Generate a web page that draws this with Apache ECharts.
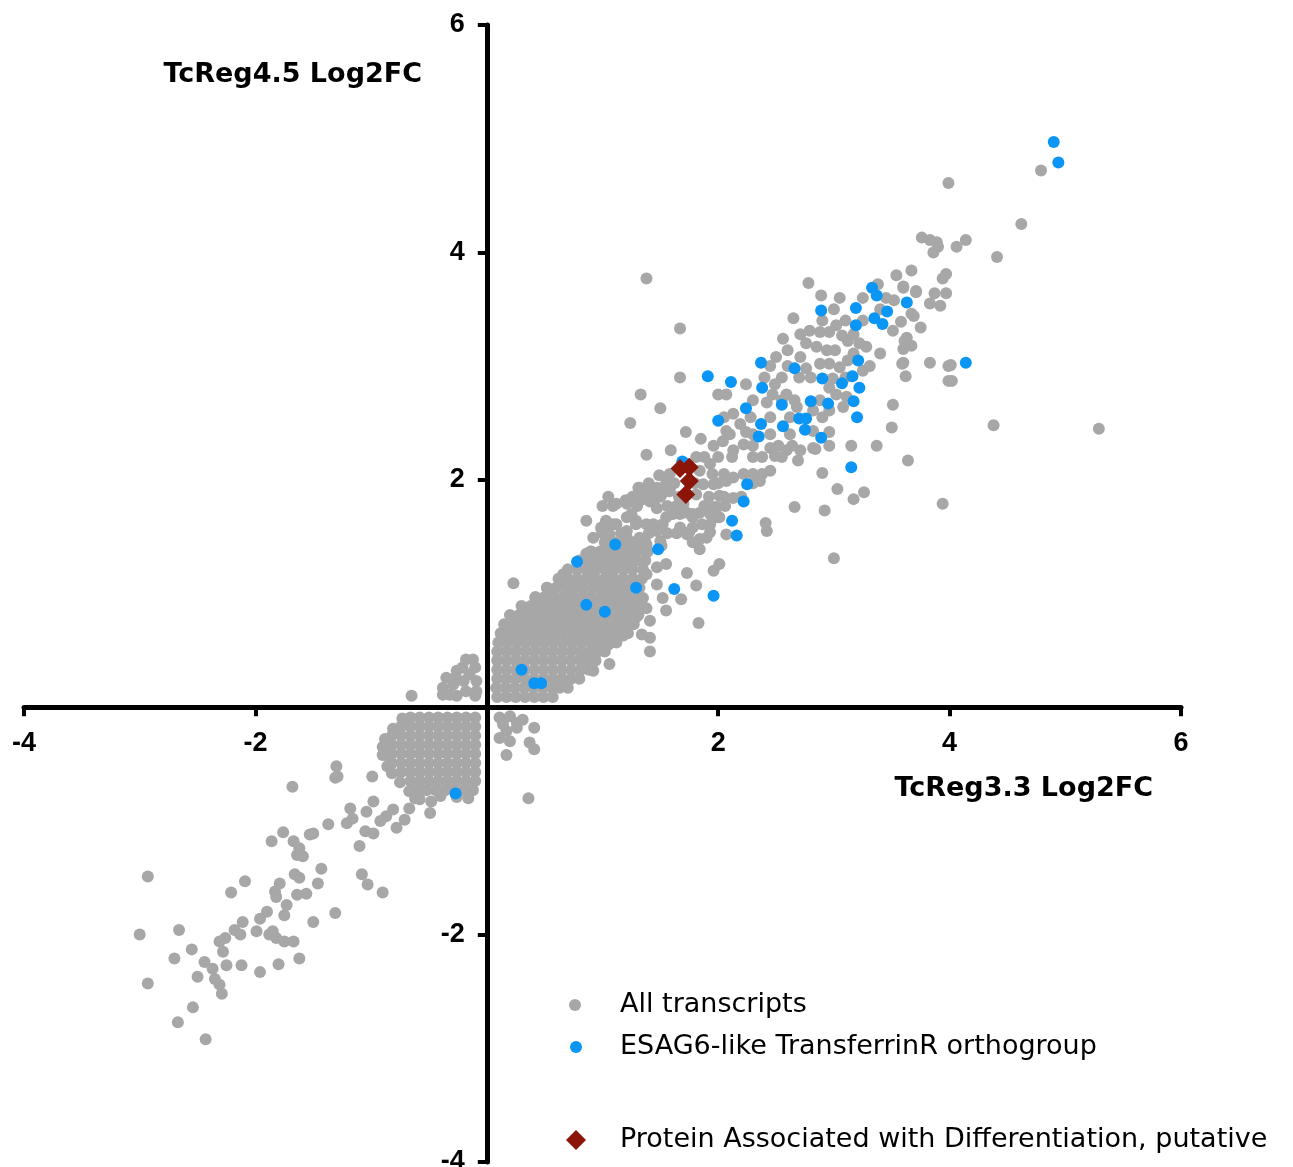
<!DOCTYPE html>
<html lang="en">
<head>
    <meta charset="UTF-8">
    <title>TcReg3.3 vs TcReg4.5 Log2FC</title>
    <script src="https://cdn.jsdelivr.net/npm/echarts@6/dist/echarts.min.js"></script>
    <style>
        html, body { margin: 0; padding: 0; background: #fff; }
    </style>
</head>
<body>
    <div id="chart" style="width:1293px;height:1167px;"></div>
    <script>
        // tick values shown on both axes (0 is hidden where the axes cross)
        var xTicks = [-4, -2, 2, 4, 6]
        var yTicks = [-4, -2, 2, 4, 6]

        // All transcripts: [TcReg3.3 log2FC, TcReg4.5 log2FC]
        // long tail going down-left
        var grayTail = [
            [-1.30,-0.52],[-1.31,-0.62],[-1.29,-0.61],[-1.68,-0.70],[-0.99,-0.61],[-0.88,-0.33],[-0.87,-0.42],
            [-1.18,-0.89],[-1.37,-1.03],[-1.21,-1.02],[-1.16,-0.98],[-1.04,-0.92],[-0.98,-0.83],[-1.05,-1.09],
            [-0.98,-1.11],[-0.92,-1.00],[-0.87,-0.96],[-0.81,-0.90],[-0.78,-1.06],[-0.71,-0.99],[-0.67,-0.89],
            [-0.58,-0.81],[-0.48,-0.83],[-0.49,-0.93],[-1.10,-1.22],[-1.08,-1.47],[-1.03,-1.56],[-0.90,-1.63],
            [-1.53,-1.12],[-1.50,-1.11],[-1.76,-1.10],[-1.86,-1.18],[-1.67,-1.18],[-1.64,-1.30],[-1.59,-1.31],
            [-1.62,-1.24],[-1.43,-1.42],[-1.66,-1.47],[-1.62,-1.50],[-1.46,-1.55],[-1.79,-1.55],[-1.83,-1.62],
            [-1.82,-1.67],[-1.64,-1.65],[-1.56,-1.64],[-1.73,-1.74],[-1.75,-1.83],[-1.90,-1.80],[-1.96,-1.86],
            [-1.99,-1.97],[-1.88,-2.00],[-1.82,-2.03],[-1.75,-2.06],[-1.67,-2.06],[-1.85,-1.97],[-2.09,-1.53],
            [-2.21,-1.63],[-2.93,-1.49],[-3.00,-2.00],[-2.66,-1.96],[-2.11,-1.89],[-2.18,-1.96],[-2.13,-2.00],
            [-2.31,-2.06],[-2.26,-2.03],[-2.28,-2.15],[-2.55,-2.13],[-2.70,-2.21],[-2.44,-2.24],[-2.37,-2.30],
            [-2.35,-2.39],[-2.31,-2.44],[-2.29,-2.52],[-2.25,-2.27],[-2.12,-2.27],[-1.96,-2.33],[-1.80,-2.26],
            [-1.62,-2.21],[-1.50,-1.89],[-1.31,-1.81],[-2.50,-2.37],[-2.93,-2.43],[-2.54,-2.64],[-2.67,-2.77],
            [-2.43,-2.92]
        ]

        // dense block just below the x axis, left of the y axis
        var grayNegBlock = [
            [-0.10,-0.09],[-0.18,-0.09],[-0.26,-0.09],[-0.34,-0.09],[-0.42,-0.09],[-0.50,-0.09],[-0.58,-0.09],[-0.66,-0.09],[-0.73,-0.10],
            [-0.10,-0.17],[-0.18,-0.17],[-0.26,-0.17],[-0.34,-0.17],[-0.42,-0.17],[-0.50,-0.17],[-0.58,-0.17],[-0.66,-0.17],[-0.74,-0.17],[-0.81,-0.19],
            [-0.10,-0.25],[-0.18,-0.25],[-0.26,-0.25],[-0.34,-0.25],[-0.42,-0.25],[-0.50,-0.25],[-0.58,-0.25],[-0.66,-0.25],[-0.74,-0.25],[-0.82,-0.25],[-0.88,-0.28],
            [-0.10,-0.33],[-0.18,-0.33],[-0.26,-0.33],[-0.34,-0.33],[-0.42,-0.33],[-0.50,-0.33],[-0.58,-0.33],[-0.66,-0.33],[-0.74,-0.33],[-0.82,-0.33],[-0.90,-0.35],
            [-0.10,-0.41],[-0.18,-0.41],[-0.26,-0.41],[-0.34,-0.41],[-0.42,-0.41],[-0.50,-0.41],[-0.58,-0.41],[-0.66,-0.41],[-0.74,-0.41],[-0.82,-0.41],[-0.90,-0.42],
            [-0.10,-0.49],[-0.18,-0.49],[-0.26,-0.49],[-0.34,-0.49],[-0.42,-0.49],[-0.50,-0.49],[-0.58,-0.49],[-0.66,-0.49],[-0.74,-0.49],[-0.82,-0.49],[-0.86,-0.52],
            [-0.10,-0.57],[-0.18,-0.57],[-0.26,-0.57],[-0.34,-0.57],[-0.42,-0.57],[-0.50,-0.57],[-0.58,-0.57],[-0.66,-0.57],[-0.74,-0.57],[-0.82,-0.58],
            [-0.10,-0.65],[-0.18,-0.65],[-0.26,-0.65],[-0.34,-0.65],[-0.42,-0.65],[-0.50,-0.65],[-0.58,-0.65],[-0.66,-0.65],[-0.75,-0.66],
            [-0.12,-0.73],[-0.20,-0.73],[-0.28,-0.73],[-0.36,-0.73],[-0.44,-0.73],[-0.52,-0.73],[-0.60,-0.73],[-0.67,-0.74],
            [-0.16,-0.80],[-0.26,-0.79],[-0.40,-0.78],[-0.62,-0.80]
        ]

        // small groups in the other two quadrants near the origin
        var grayOffQuadrant = [
            [-0.18,0.42],[-0.38,0.17],[-0.35,0.26],[-0.26,0.32],[-0.10,0.35],[-0.09,0.23],[-0.18,0.14],[-0.26,0.10],
            [-0.10,0.10],[-0.32,0.11],[-0.20,0.23],[-0.15,0.29],[-0.29,0.20],[-0.21,0.35],[-0.09,0.14],[-0.38,0.11],
            [-0.12,0.42],[-0.27,0.26],[-0.65,0.10],
            [0.11,-0.09],[0.20,-0.08],[0.31,-0.11],[0.26,-0.18],[0.17,-0.21],[0.11,-0.27],[0.20,-0.30],[0.17,-0.42],
            [0.41,-0.18],[0.37,-0.31],[0.41,-0.37],[0.36,-0.80],[0.26,-0.14],[0.14,-0.15]
        ]

        // dense core just above/right of the origin
        var grayCore = [
            [0.09,0.09],[0.17,0.09],[0.25,0.09],[0.33,0.09],[0.41,0.09],[0.49,0.09],[0.57,0.09],
            [0.08,0.17],[0.16,0.17],[0.24,0.17],[0.32,0.17],[0.40,0.17],[0.48,0.17],[0.56,0.17],[0.63,0.17],[0.70,0.17],
            [0.09,0.25],[0.17,0.25],[0.25,0.25],[0.33,0.25],[0.41,0.25],[0.49,0.25],[0.57,0.25],[0.65,0.25],[0.73,0.25],[0.80,0.25],
            [0.09,0.33],[0.17,0.33],[0.25,0.33],[0.33,0.33],[0.41,0.33],[0.49,0.33],[0.57,0.33],[0.65,0.33],[0.73,0.33],[0.81,0.33],[0.88,0.33],
            [0.09,0.41],[0.17,0.41],[0.25,0.41],[0.33,0.41],[0.41,0.41],[0.49,0.41],[0.57,0.41],[0.65,0.41],[0.73,0.41],[0.81,0.41],[0.88,0.41],[0.94,0.41],
            [0.09,0.49],[0.17,0.49],[0.25,0.49],[0.33,0.49],[0.41,0.49],[0.49,0.49],[0.57,0.49],[0.65,0.49],[0.73,0.49],[0.81,0.49],[0.89,0.49],[0.96,0.49],[1.02,0.49],
            [0.10,0.57],[0.18,0.57],[0.26,0.57],[0.34,0.57],[0.42,0.57],[0.50,0.57],[0.58,0.57],[0.66,0.57],[0.74,0.57],[0.82,0.57],[0.90,0.57],[0.98,0.57],[1.05,0.57],[1.12,0.57],
            [0.12,0.65],[0.20,0.65],[0.28,0.65],[0.36,0.65],[0.44,0.65],[0.52,0.65],[0.60,0.65],[0.68,0.65],[0.76,0.65],[0.84,0.65],[0.92,0.65],[1.00,0.65],[1.08,0.65],[1.15,0.65],[1.22,0.65],
            [0.15,0.73],[0.23,0.73],[0.31,0.73],[0.39,0.73],[0.47,0.73],[0.55,0.73],[0.63,0.73],[0.71,0.73],[0.79,0.73],[0.87,0.73],[0.95,0.73],[1.03,0.73],[1.11,0.73],[1.19,0.73],[1.27,0.73],
            [0.20,0.81],[0.28,0.81],[0.36,0.81],[0.44,0.81],[0.52,0.81],[0.60,0.81],[0.68,0.81],[0.76,0.81],[0.84,0.81],[0.92,0.81],[1.00,0.81],[1.08,0.81],[1.16,0.81],[1.24,0.81],[1.31,0.81],
            [0.30,0.89],[0.38,0.89],[0.46,0.89],[0.54,0.89],[0.62,0.89],[0.70,0.89],[0.78,0.89],[0.86,0.89],[0.94,0.89],[1.02,0.89],[1.10,0.89],[1.18,0.89],[1.26,0.89],[1.33,0.89],
            [0.42,0.97],[0.50,0.97],[0.58,0.97],[0.66,0.97],[0.74,0.97],[0.82,0.97],[0.90,0.97],[0.98,0.97],[1.06,0.97],[1.14,0.97],[1.22,0.97],[1.30,0.97],
            [0.52,1.05],[0.60,1.05],[0.68,1.05],[0.76,1.05],[0.84,1.05],[0.92,1.05],[1.00,1.05],[1.08,1.05],[1.16,1.05],[1.24,1.05],[1.32,1.05],
            [0.62,1.13],[0.70,1.13],[0.78,1.13],[0.86,1.13],[0.94,1.13],[1.02,1.13],[1.10,1.13],[1.18,1.13],[1.26,1.13],[1.34,1.13],
            [0.70,1.21],[0.78,1.21],[0.86,1.21],[0.94,1.21],[1.02,1.21],[1.10,1.21],[1.18,1.21],[1.26,1.21],[1.35,1.21],
            [0.80,1.29],[0.88,1.29],[0.96,1.29],[1.04,1.29],[1.12,1.29],[1.20,1.29],[1.28,1.29],[1.37,1.29],
            [0.90,1.37],[0.98,1.37],[1.06,1.37],[1.14,1.37],[1.22,1.37],[1.30,1.37],[1.39,1.37],
            [1.02,1.45],[1.10,1.45],[1.18,1.45],[1.26,1.45],[1.34,1.45]
        ]

        // scattered points along the diagonal band and beyond
        var grayBand = [
            [0.23,1.09],[0.52,1.05],[0.42,0.96],[0.66,1.17],[0.70,1.21],[0.86,1.35],[0.90,1.37],[0.99,1.57],[1.06,1.52],
            [1.21,1.55],[1.18,1.43],[1.26,1.40],[1.37,1.45],[1.38,1.36],[1.51,1.42],[1.38,1.17],[1.47,1.08],[1.52,0.96],
            [1.35,0.96],[1.24,0.87],[1.29,0.79],[1.18,0.76],[1.38,0.87],[1.15,0.99],[1.29,1.29],[1.21,1.26],[1.09,1.29],
            [1.03,1.20],[0.95,1.26],[0.89,1.17],[0.80,1.11],[0.72,1.08],[0.92,1.49],[1.12,1.40],[1.03,1.64],[1.29,1.61],
            [1.55,0.85],[1.68,0.95],[1.83,0.74],[1.41,0.76],[1.34,0.64],[1.41,0.61],[1.41,0.49],[1.18,0.63],[1.05,0.55],
            [1.06,0.38],[0.92,0.32],[0.89,0.46],[1.73,1.18],[1.81,1.07],[1.96,1.20],[2.01,1.26],[1.55,1.26],[1.47,1.23],
            [1.58,1.90],[1.31,1.93],[1.38,1.87],[1.45,1.92],[1.41,1.81],[1.20,1.82],[1.09,1.77],[1.47,1.75],[0.86,1.64],
            [0.99,1.58],[1.24,1.68],[1.29,1.62],[1.25,1.70],[1.32,1.93],[1.47,1.93],[1.51,1.87],[1.44,1.81],[1.35,1.83],
            [1.67,1.70],[1.73,1.71],[1.78,1.67],[1.84,1.71],[1.93,1.70],[1.96,1.76],[1.99,1.67],[1.67,1.58],[1.75,1.54],
            [1.84,1.48],[1.93,1.54],[1.78,1.45],[1.84,1.39],
            [1.52,1.90],[1.44,1.90],[1.35,1.90],[1.29,1.84],[1.21,1.79],[1.12,1.79],[1.09,1.61],[1.21,1.67],[1.29,1.64],
            [1.38,1.61],[1.47,1.55],[1.55,1.67],[1.61,1.70],[1.03,1.55],[1.21,1.49],[1.32,1.49],[1.50,1.46],[1.38,1.43],
            [1.67,2.90],[1.67,3.33],[1.38,3.77],[1.33,2.75],[1.50,2.63],[1.24,2.50],[1.72,2.42],[1.85,2.36],[1.59,2.26],
            [1.38,2.22],[1.49,2.04],[1.58,1.91],
            [1.96,1.96],[1.93,2.14],[1.81,2.20],[1.73,2.14],[1.84,2.08],[1.87,1.96],[1.81,1.87],[1.70,1.79],[1.78,1.70],
            [1.90,1.73],[1.99,1.76],[2.01,1.86],[2.13,1.84],[2.01,1.67],[1.93,1.61],[1.78,1.58],[1.73,1.52],[1.90,1.49],
            [2.07,1.52],[2.41,1.62],[2.42,1.55],[2.66,1.76],[2.92,1.73],[2.90,2.06],[3.03,1.92],[3.17,1.83],[3.26,1.89],
            [2.45,2.08],[2.36,1.99],[2.22,2.05],[2.13,2.02],[2.07,1.99],[2.30,2.20],[2.45,2.28],[2.49,2.21],[2.59,2.26],
            [2.71,2.26],[2.69,2.17],[2.82,2.28],[2.96,2.30],[2.96,2.42],[2.82,2.43],[3.15,2.30],[3.37,2.30],[2.84,2.27],
            [2.13,2.58],[2.19,2.49],[2.07,2.43],[2.04,2.34],[2.13,2.26],[2.22,2.31],[2.24,2.42],[2.00,2.75],[2.07,2.75],
            [2.24,2.84],[2.49,2.84],[2.42,2.68],[2.47,2.75],[2.59,2.75],[2.68,2.64],[2.82,2.61],[2.96,2.61],[3.08,2.64],
            [3.11,2.73],[3.02,2.75],[2.96,2.81],[2.99,2.89],[3.05,2.99],[3.12,3.05],[3.17,3.11],[2.96,3.02],[2.88,3.02],
            [2.76,2.98],[2.71,3.08],[2.50,3.08],[2.60,3.14],[2.76,3.20],[2.85,3.17],[2.94,3.14],[3.01,3.14],[3.25,2.96],
            [3.31,3.00],[3.40,3.11],[3.28,3.17],[3.22,3.20],[3.17,3.28],[3.12,3.22],[3.07,3.27],[3.02,3.36],[2.96,3.30],
            [2.88,3.30],[2.79,3.31],[2.71,3.28],[2.56,3.24],[2.65,3.42],[2.78,3.73],[2.89,3.62],
            [3.38,3.72],[3.54,3.80],[3.67,3.84],[3.60,3.70],[3.71,3.66],[3.87,3.64],[3.94,3.77],[3.97,3.81],[3.83,3.55],
            [3.92,3.53],[3.97,3.64],[3.52,3.58],[3.67,3.46],[3.58,3.39],[3.75,3.34],[3.51,3.31],[3.63,3.25],[3.67,3.18],
            [3.83,3.03],[3.59,3.02],[3.62,2.91],[3.99,3.00],[3.99,2.87],[3.51,2.66],[3.50,2.46],[3.64,2.17],[3.94,1.79],
            [3.71,3.65],[3.60,3.69],[3.69,3.44],[3.61,3.22],[3.60,3.15],[3.60,3.03],[4.01,3.01],[4.02,2.87],
            [3.76,4.13],[3.83,4.11],[3.89,4.09],[3.90,4.05],[3.86,4.00],[4.06,4.05],[4.14,4.11],[4.41,3.96],[4.62,4.25],
            [3.99,4.61],[4.79,4.72],[4.38,2.48],[5.29,2.45],[3.00,1.31]
        ]

        // extra fill where the band between ~1.5 and ~3.5 is crowded
        var grayBandFill = [
            [1.00,1.53],[1.16,1.53],[1.40,1.53],[1.56,1.53],[1.64,1.53],
            [1.12,1.61],[1.44,1.61],[1.52,1.61],[1.86,1.61],
            [1.00,1.77],[1.30,1.77],[1.56,1.77],[1.64,1.77],[1.88,1.77],[2.06,1.77],
            [1.05,1.85],[1.26,1.85],[1.50,1.85],[1.66,1.85],[1.92,1.85],[2.05,1.85],[2.20,1.85],
            [1.40,1.97],[1.55,1.97],[1.62,1.97],[1.80,1.97],[2.00,1.97],[2.30,1.97],
            [1.58,2.05],[1.95,2.05],[2.05,2.05],[2.30,2.05],[2.38,2.05],
            [1.88,2.20],[2.00,2.20],[2.12,2.20],[2.38,2.20],[2.55,2.20],
            [1.96,2.30],[2.30,2.30],[2.52,2.30],[2.64,2.30],
            [2.10,2.40],[2.30,2.40],[2.45,2.40],[2.62,2.40],
            [2.05,2.55],[2.28,2.55],[2.45,2.55],[2.62,2.55],[2.90,2.55],
            [2.30,2.70],[2.55,2.70],[2.66,2.70],[2.88,2.70],
            [2.40,2.90],[2.55,2.90],[2.70,2.90],[2.80,2.90],[3.10,2.90],
            [2.45,3.00],[2.60,3.00],
            [2.90,3.40],[3.10,3.40],[3.25,3.40],
            [3.00,3.50],[3.40,3.50],
            [3.05,3.60],[3.25,3.60],[3.45,3.60]
        ]

        // ESAG6-like TransferrinR orthogroup
        var esag6 = [
            [4.90,4.97],[4.94,4.79],[4.14,3.03],[3.33,3.69],[3.37,3.62],[3.19,3.51],[3.46,3.48],[3.63,3.56],[3.35,3.42],
            [3.42,3.37],[3.19,3.36],[2.89,3.49],[2.37,3.03],[2.66,2.98],[1.91,2.91],[2.11,2.86],[3.21,3.05],[3.16,2.91],
            [2.90,2.89],[3.07,2.85],[3.22,2.81],[2.38,2.81],[2.55,2.66],[2.80,2.69],[2.95,2.67],[3.17,2.69],[2.24,2.63],
            [2.00,2.52],[2.37,2.49],[2.56,2.47],[2.70,2.54],[2.76,2.54],[2.75,2.44],[2.35,2.38],[2.89,2.37],[3.20,2.55],
            [3.15,2.11],[1.69,2.16],[2.25,1.96],[2.22,1.81],[2.12,1.64],[2.16,1.51],[1.11,1.43],[1.48,1.39],[0.78,1.28],
            [1.29,1.05],[1.62,1.04],[1.96,0.98],[0.86,0.90],[1.02,0.84],[0.30,0.33],[0.41,0.21],[0.47,0.21],[-0.27,-0.76]
        ]

        // Protein Associated with Differentiation, putative
        var pad = [[1.67,2.10],[1.75,2.11],[1.75,1.99],[1.72,1.87]]

        var allTranscripts = grayTail.concat(grayNegBlock, grayOffQuadrant, grayCore, grayBand, grayBandFill)

        var tickFont = { color: '#000', fontFamily: 'Liberation Sans, Arial, sans-serif', fontWeight: 'bold', fontSize: 27 }
        var legendFont = { color: '#000', fontFamily: 'DejaVu Sans, sans-serif', fontSize: 27, lineHeight: 30 }
        var nameFont = 'bold 27px "DejaVu Sans", sans-serif'

        function tickLabel(ticks) {
            return function (v) {
                return ticks.indexOf(v) >= 0 ? String(v) : ''
            }
        }

        // plot box; the two axes are moved inward so they cross at (0, 0)
        var W = 1293, H = 1167
        var gLeft = 24, gRight = 112, gTop = 25, gBottom = 5
        var plotW = W - gLeft - gRight
        var plotH = H - gTop - gBottom
        var xZeroShift = -plotW * (0 - (-4)) / 10      // y axis moved to x = 0
        var yZeroShift = -plotH * (0 - (-4)) / 10      // x axis moved to y = 0

        var myChart = echarts.init(document.getElementById('chart'))
        var option = {
            animation: false,
            backgroundColor: '#fff',
            grid: {
                left: gLeft,
                right: gRight,
                top: gTop,
                bottom: gBottom,
                containLabel: false,
                outerBoundsMode: 'none'
            },
            xAxis: {
                type: 'value',
                position: 'bottom',
                offset: yZeroShift,
                min: -4,
                max: 6,
                interval: 2,
                splitLine: { show: false },
                axisLine: { onZero: false, lineStyle: { color: '#000', width: 5 } },
                axisTick: { show: true, inside: false, length: 9, lineStyle: { color: '#000', width: 4 } },
                axisLabel: Object.assign({ margin: 23, formatter: tickLabel(xTicks), showMinLabel: true, showMaxLabel: true }, tickFont)
            },
            yAxis: {
                type: 'value',
                position: 'left',
                offset: xZeroShift,
                min: -4,
                max: 6,
                interval: 2,
                splitLine: { show: false },
                axisLine: { onZero: false, lineStyle: { color: '#000', width: 5 } },
                axisTick: { show: true, inside: false, length: 9, lineStyle: { color: '#000', width: 4 } },
                axisLabel: Object.assign({ margin: 22, formatter: tickLabel(yTicks), showMinLabel: true, showMaxLabel: true }, tickFont)
            },
            graphic: [
                {
                    type: 'text', x: 1153, y: 789,
                    style: { text: 'TcReg3.3 Log2FC', font: nameFont, fill: '#000', align: 'right', verticalAlign: 'middle' }
                },
                {
                    type: 'text', x: 422, y: 75,
                    style: { text: 'TcReg4.5 Log2FC', font: nameFont, fill: '#000', align: 'right', verticalAlign: 'middle' }
                }
            ],
            legend: [
                {
                    data: ['All transcripts'],
                    left: 569, top: 990, padding: 0,
                    icon: 'circle', itemWidth: 12, itemHeight: 12,
                    textStyle: Object.assign({ padding: [0, 0, 0, 34] }, legendFont)
                },
                {
                    data: ['ESAG6-like TransferrinR orthogroup'],
                    left: 570, top: 1032, padding: 0,
                    icon: 'circle', itemWidth: 12, itemHeight: 12,
                    textStyle: Object.assign({ padding: [0, 0, 0, 33] }, legendFont)
                },
                {
                    data: ['Protein Associated with Differentiation, putative'],
                    left: 566, top: 1125, padding: 0,
                    icon: 'diamond', itemWidth: 20, itemHeight: 20,
                    textStyle: Object.assign({ padding: [0, 0, 0, 29] }, legendFont)
                }
            ],
            series: [
                {
                    name: 'All transcripts',
                    type: 'scatter',
                    symbol: 'circle',
                    symbolSize: 12,
                    itemStyle: { color: '#A7A7A7', opacity: 1 },
                    data: allTranscripts
                },
                {
                    name: 'ESAG6-like TransferrinR orthogroup',
                    type: 'scatter',
                    symbol: 'circle',
                    symbolSize: 12,
                    itemStyle: { color: '#0B95F4', opacity: 1 },
                    data: esag6
                },
                {
                    name: 'Protein Associated with Differentiation, putative',
                    type: 'scatter',
                    symbol: 'diamond',
                    symbolSize: 19,
                    itemStyle: { color: '#8B1608', opacity: 1 },
                    data: pad
                }
            ]
        }
        myChart.setOption(option)
    </script>
</body>
</html>
